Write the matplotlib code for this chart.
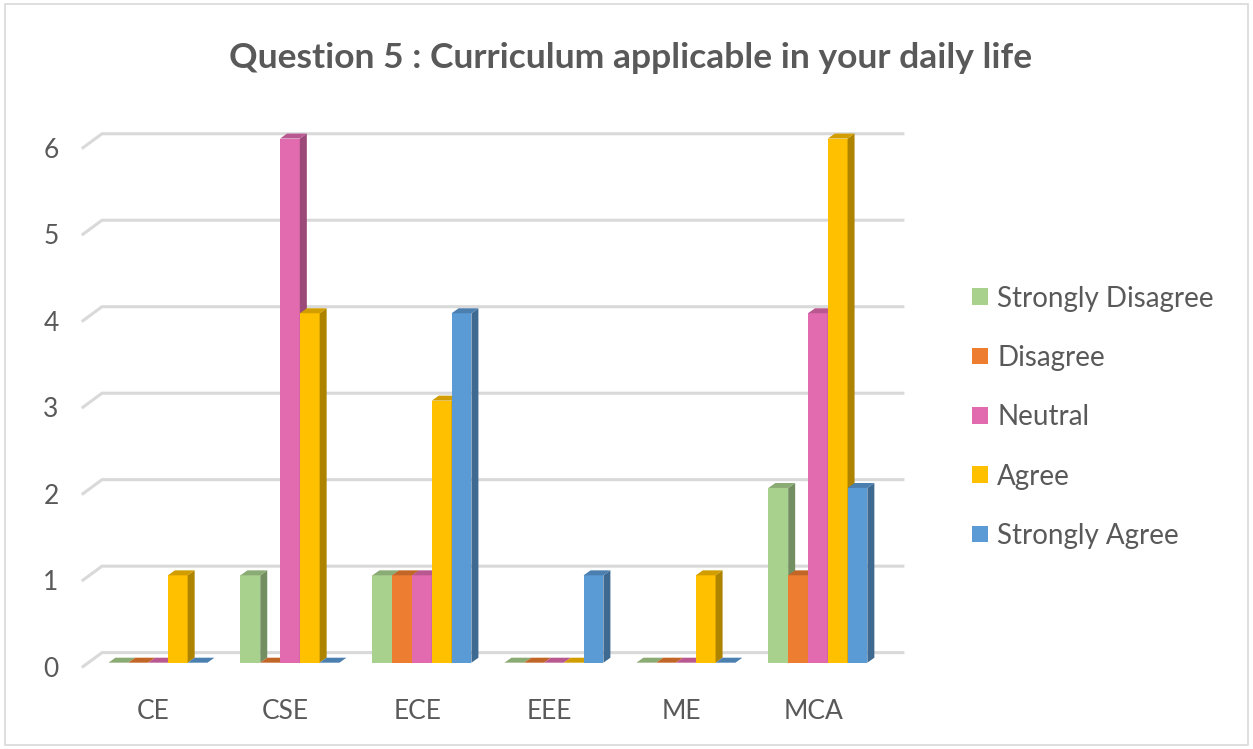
import numpy as np
import matplotlib.pyplot as plt
from matplotlib.patches import Polygon, Rectangle, Patch
from matplotlib.colors import to_rgb

plt.rcParams['font.family'] = ['Lato', 'DejaVu Sans']

categories = ["CE", "CSE", "ECE", "EEE", "ME", "MCA"]
series = ["Strongly Disagree", "Disagree", "Neutral", "Agree", "Strongly Agree"]
strongly_disagree = [0, 1, 1, 0, 0, 2]
disagree = [0, 0, 1, 0, 0, 1]
neutral = [0, 6, 1, 0, 0, 4]
agree = [1, 4, 3, 0, 1, 6]
strongly_agree = [0, 0, 4, 1, 0, 2]
values = [strongly_disagree, disagree, neutral, agree, strongly_agree]
colors = ["#A9D18E", "#ED7D31", "#E26BB0", "#FFC000", "#5B9BD5"]

text_col = "#595959"
grid_col = "#D9D9D9"

def shade(c, f):
    r, g, b = to_rgb(c)
    return (r * f, g * f, b * f)

fig = plt.figure(figsize=(12.53, 7.49), dpi=100)
ax = fig.add_axes([0.0734, 0.110, 0.632, 0.740])
ax.set_xlim(-0.5, 5.5)
ax.set_ylim(0, 6.3)

# gridlines: short diagonal on the side wall, then along the back wall
ticks = np.arange(7)
sc = 0.99
for v in ticks:
    yf = v * sc - 0.045
    yb = v * sc + 0.115
    ax.plot([-0.568, -0.424, 5.644], [yf, yb, yb], color=grid_col, lw=2.2,
            zorder=0, clip_on=False, solid_joinstyle='miter')

w = 0.15
dx, dy = 0.053, 0.057
x = np.arange(len(categories))
z = 2
for s in range(len(series)):
    pos = x + (s - 2) * w
    bars = ax.bar(pos, values[s], width=w, color=colors[s], zorder=z, linewidth=0)
    for b in bars:
        x0, h = b.get_x(), b.get_height()
        x1 = x0 + b.get_width()
        side = Polygon([(x1, 0), (x1 + dx, dy), (x1 + dx, h + dy), (x1, h)],
                       closed=True, facecolor=shade(colors[s], 0.68), lw=0, zorder=z)
        top = Polygon([(x0, h), (x0 + dx, h + dy), (x1 + dx, h + dy), (x1, h)],
                      closed=True, facecolor=shade(colors[s], 0.82), lw=0, zorder=z)
        ax.add_patch(side)
        ax.add_patch(top)
    z += 1

ax.set_xticks(x - 0.035)
ax.set_xticklabels(categories)
ax.set_yticks(ticks * sc - 0.045)
ax.set_yticklabels([str(t) for t in ticks])
ax.tick_params(axis='both', length=0, colors=text_col, labelsize=19)
ax.tick_params(axis='x', pad=23)
ax.tick_params(axis='y', pad=24)
for sp in ax.spines.values():
    sp.set_visible(False)

fig.text(0.503, 0.922, "Question 5 : Curriculum applicable in your daily life",
         ha='center', va='center', fontsize=25.5, fontweight='bold', color=text_col)

handles = [Patch(facecolor=c, edgecolor='none') for c in colors]
fig.legend(handles, series, loc='center left', bbox_to_anchor=(0.776, 0.443),
           frameon=False, fontsize=20, labelcolor=text_col, handlelength=0.55,
           handleheight=0.55, handletextpad=0.35, labelspacing=1.2,
           borderpad=0, borderaxespad=0)

fig.patches.append(Rectangle((0.004, 0.006), 0.992, 0.988, transform=fig.transFigure,
                             fill=False, edgecolor=grid_col, lw=1.2))

fig.savefig("out.png", dpi=100, facecolor='white')
